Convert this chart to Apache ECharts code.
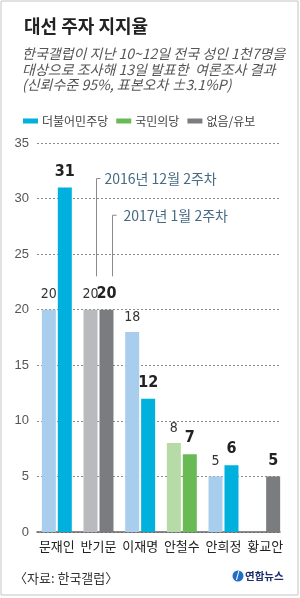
<!DOCTYPE html>
<html>
<head>
<meta charset="utf-8">
<script src="https://cdn.jsdelivr.net/npm/echarts@6/dist/echarts.min.js"></script>
<style>
  html, body { margin: 0; padding: 0; background: #fff; }
  #chart { width: 300px; height: 598px; }
</style>
</head>
<body>
<div id="chart"></div>
<script>
// 후보별 지지율 (%)
const categories = ['문재인', '반기문', '이재명', '안철수', '안희정', '황교안'];
const dec2016 = [20, 20, 18, 8, 5, null];   // 2016년 12월 2주차
const jan2017 = [31, 20, 12, 7, 6, 5];      // 2017년 1월 2주차
const parties = ['더불어민주당', '없음/유보', '더불어민주당', '국민의당', '더불어민주당', '없음/유보'];
const legendNames = ['더불어민주당', '국민의당', '없음/유보'];
const yMin = 0, yMax = 35, yStep = 5;

const titleText = '대선 주자 지지율';
const subText = '한국갤럽이 지난 10~12일 전국 성인 1천7명을\n대상으로 조사해 13일 발표한  여론조사 결과\n(신뢰수준 95%, 표본오차 ±3.1%P)';
const prevName = '2016년 12월 2주차';
const currName = '2017년 1월 2주차';
const sourceText = '〈자료: 한국갤럽〉';

const KR = "'Noto Sans CJK KR', sans-serif";
const NUM = "'Liberation Sans Narrow', 'DejaVu Sans Condensed', 'Liberation Sans', sans-serif";

// 정당별 색 (이전, 최근)
const colors = {
    '더불어민주당': ['#a9cdec', '#00b1de'],
    '국민의당': ['#b6dba6', '#69ba55'],
    '없음/유보': ['#b9babd', '#7b7c80']
};

const chart = echarts.init(document.getElementById('chart'));

const barData = (vals, k) => vals.map((v, i) => ({
    value: v,
    itemStyle: { color: colors[parties[i]][k] }
}));

const option = {
    animation: false,
    backgroundColor: '#fff',
    title: [{
        text: titleText,
        left: 19, top: 12,
        textStyle: { fontFamily: KR, fontSize: 18, fontWeight: 'bold', color: '#222' }
    }, {
        text: subText,
        left: 17, top: 41,
        textStyle: { fontFamily: KR, fontSize: 14, fontWeight: 'normal', fontStyle: 'italic', color: '#555', lineHeight: 15.5 }
    }],
    legend: {
        left: 18, top: 110,
        icon: 'rect',
        itemWidth: 15, itemHeight: 5,
        itemGap: 8,
        selectedMode: false,
        textStyle: { fontFamily: KR, fontSize: 12, color: '#444', padding: [0, 0, 0, -1] },
        data: legendNames.map(n => ({ name: n, itemStyle: { color: colors[n][1] } }))
    },
    grid: [
        { left: 37, right: 20, top: 143, bottom: 66 },
        { left: 36, right: 14, top: 143, bottom: 66 }
    ],
    xAxis: [{
        gridIndex: 0, type: 'category', data: categories,
        axisLine: { lineStyle: { color: '#666', width: 1.5 } },
        axisTick: { show: false }, axisLabel: { show: false }
    }, {
        gridIndex: 1, type: 'category', data: categories,
        axisLine: { show: false }, axisTick: { show: false },
        axisLabel: { interval: 0, margin: 8, fontFamily: KR, fontSize: 13, color: '#222' }
    }],
    yAxis: [{
        gridIndex: 0, type: 'value', min: yMin, max: yMax, interval: yStep,
        axisLine: { show: false }, axisTick: { show: false },
        axisLabel: { margin: 8, fontFamily: "'Liberation Sans', sans-serif", fontSize: 13, color: '#555' },
        splitLine: { lineStyle: { color: '#8a8a8a', type: [2, 2], width: 1 } }
    }, {
        gridIndex: 1, type: 'value', min: yMin, max: yMax, interval: yStep,
        show: false, splitLine: { show: false }
    }],
    series: [{
        name: prevName, type: 'bar', xAxisIndex: 1, yAxisIndex: 1,
        barWidth: 14, barGap: '14%',
        data: barData(dec2016, 0),
        label: { show: true, position: 'top', distance: 8, fontFamily: NUM, fontSize: 14, color: '#333' }
    }, {
        name: currName, type: 'bar', xAxisIndex: 1, yAxisIndex: 1,
        barWidth: 14,
        data: barData(jan2017, 1),
        label: { show: true, position: 'top', distance: 8, fontFamily: NUM, fontSize: 16, fontWeight: 'bold', color: '#222' }
    }].concat(legendNames.map(n => ({
        name: n, type: 'line', xAxisIndex: 0, yAxisIndex: 0, data: [],
        itemStyle: { color: colors[n][1] }
    })))
};

chart.setOption(option);

// 시점 주석선 (반기문 막대 위)
const base = chart.convertToPixel({ xAxisIndex: 1, yAxisIndex: 1 }, ['반기문', 23]);
const top1 = chart.convertToPixel({ xAxisIndex: 1, yAxisIndex: 1 }, ['반기문', 31.8]);
const top2 = chart.convertToPixel({ xAxisIndex: 1, yAxisIndex: 1 }, ['반기문', 28.5]);
const x1 = Math.round(base[0] - 3) + 0.5;
const x2 = Math.round(base[0] + 13) + 0.5;
const noteStyle = { stroke: '#8a8a8a', lineWidth: 1, fill: null };
const noteText = { fontFamily: KR, fontSize: 14, fill: '#466b83' };

chart.setOption({
    graphic: [
        { type: 'rect', shape: { x: 1, y: 1, width: 297, height: 594 }, style: { stroke: '#c4c4c4', lineWidth: 1, fill: null }, silent: true },
        { type: 'polyline', shape: { points: [[x1, base[1]], [x1, top1[1]], [x1 + 4, top1[1]]] }, style: noteStyle },
        { type: 'polyline', shape: { points: [[x2, base[1]], [x2, top2[1]], [x2 + 4, top2[1]]] }, style: noteStyle },
        { type: 'text', x: x1 + 8, y: top1[1], style: Object.assign({ text: prevName, verticalAlign: 'middle' }, noteText) },
        { type: 'text', x: x2 + 11, y: top2[1], style: Object.assign({ text: currName, verticalAlign: 'middle' }, noteText) },
        { type: 'text', x: 14, y: 578, style: { text: sourceText, fontFamily: KR, fontSize: 13, fill: '#333', verticalAlign: 'middle' } },
        { type: 'circle', shape: { cx: 238, cy: 576, r: 5.5 }, style: { fill: '#1f6fc6' } },
        { type: 'text', x: 236, y: 576, style: { text: '/', fontFamily: NUM, fontSize: 10, fontWeight: 'bold', fill: '#fff', verticalAlign: 'middle' } },
        { type: 'text', x: 245, y: 576, style: { text: '연합뉴스', fontFamily: KR, fontSize: 10.5, fontWeight: 'bold', fill: '#1b2d6b', verticalAlign: 'middle' } }
    ]
});
</script>
</body>
</html>
